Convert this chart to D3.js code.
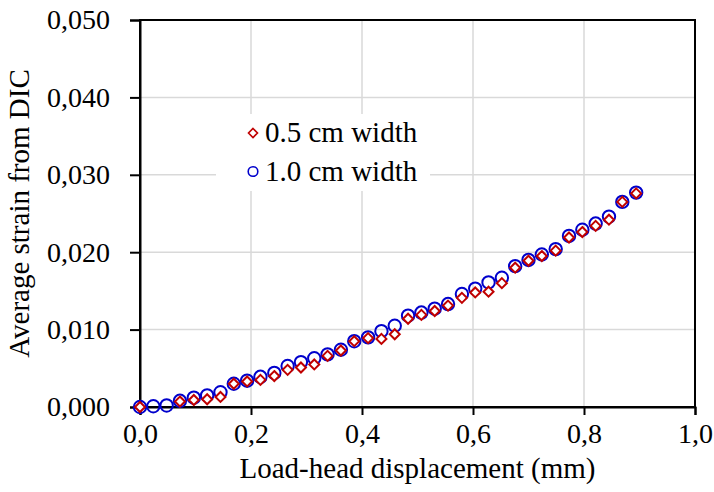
<!DOCTYPE html>
<html lang="en">
  <head>
    <meta charset="UTF-8" />
    <title>Average strain from DIC</title>
    <script src="https://d3js.org/d3.v7.min.js"></script>
    <style>
      body {
        margin: 0;
        background: white;
      }
      text {
        font-family: "Liberation Serif", "Times New Roman", serif;
        fill: #000;
      }
      .grid line {
        stroke: #d9d9d9;
        stroke-width: 1.5px;
      }
    </style>
  </head>
  <body>
    <div id="chart"></div>
    <script>
      // displacement (mm)
      const displacement = [
        0.0, 0.024, 0.048, 0.072, 0.097, 0.121, 0.145, 0.169, 0.193, 0.217,
        0.242, 0.266, 0.29, 0.314, 0.338, 0.362, 0.386, 0.411, 0.435, 0.459,
        0.483, 0.507, 0.531, 0.555, 0.58, 0.604, 0.628, 0.652, 0.676, 0.7,
        0.724, 0.749, 0.773, 0.797, 0.821, 0.845, 0.869, 0.894,
      ];
      // 0.5 cm width (null = no point)
      const strainHalf = [
        0.0, null, null, 0.0007, 0.0009, 0.001, 0.0013, 0.003, 0.0033, 0.0035,
        0.004, 0.0048, 0.0051, 0.0055, 0.0066, 0.0073, 0.0085, 0.0089, 0.0088,
        0.0094, 0.0114, 0.0119, 0.0124, 0.0131, 0.0141, 0.0148, 0.0149, 0.016,
        0.018, 0.0189, 0.0195, 0.0202, 0.0219, 0.0226, 0.0234, 0.0242, 0.0265,
        0.0276,
      ];
      // 1.0 cm width
      const strainOne = [
        0.0, 0.0001, 0.0002, 0.0008, 0.0012, 0.0015, 0.0019, 0.003, 0.0034,
        0.0039, 0.0044, 0.0053, 0.0058, 0.0063, 0.0068, 0.0074, 0.0085, 0.009,
        0.0098, 0.0105, 0.0118, 0.0122, 0.0127, 0.0133, 0.0146, 0.0153, 0.0161,
        0.0167, 0.0182, 0.019, 0.0197, 0.0204, 0.0221, 0.0229, 0.0237, 0.0246,
        0.0265, 0.0277,
      ];
      const xTicks = [0, 0.2, 0.4, 0.6, 0.8, 1.0];
      const yTicks = [0, 0.01, 0.02, 0.03, 0.04, 0.05];
      const legendLabels = ["0.5 cm width", "1.0 cm width"];

      const red = "#c00000";
      const blue = "#0000cc";
      const tickFont = 28;
      const titleFont = 29;

      const margin = { top: 20, right: 19, bottom: 85, left: 140 };
      const W = 714, H = 492;
      const width = W - margin.left - margin.right;
      const height = H - margin.top - margin.bottom;

      const svg = d3
        .select("#chart")
        .append("svg")
        .attr("width", W)
        .attr("height", H);
      const g = svg
        .append("g")
        .attr("transform", `translate(${margin.left},${margin.top})`);

      const x = d3.scaleLinear().domain([0, 1]).range([0, width]);
      const y = d3.scaleLinear().domain([0, 0.05]).range([height, 0]);

      const fmt = (dec) => (v) => v.toFixed(dec).replace(".", ",");

      // gridlines
      g.append("g")
        .attr("class", "grid")
        .selectAll("line.h")
        .data(yTicks.slice(1, -1))
        .join("line")
        .attr("x1", 0)
        .attr("x2", width)
        .attr("y1", (d) => y(d))
        .attr("y2", (d) => y(d));
      g.append("g")
        .attr("class", "grid")
        .selectAll("line.v")
        .data(xTicks.slice(1, -1))
        .join("line")
        .attr("y1", 0)
        .attr("y2", height)
        .attr("x1", (d) => x(d))
        .attr("x2", (d) => x(d));

      // frame
      g.append("rect")
        .attr("width", width)
        .attr("height", height)
        .attr("fill", "none")
        .attr("stroke", "#000")
        .attr("stroke-width", 2);

      const xAxis = g
        .append("g")
        .attr("transform", `translate(0,${height})`)
        .call(
          d3.axisBottom(x).tickValues(xTicks).tickFormat(fmt(1)).tickSizeOuter(0).tickSize(8).tickPadding(8)
        );
      const yAxis = g
        .append("g")
        .call(
          d3.axisLeft(y).tickValues(yTicks).tickFormat(fmt(3)).tickSizeOuter(0).tickSize(10).tickPadding(20)
        );
      [xAxis, yAxis].forEach((a) => {
        a.select(".domain").attr("stroke", "#000").attr("stroke-width", 2);
        a.selectAll(".tick line").attr("stroke", "#000").attr("stroke-width", 2);
        a.selectAll(".tick text")
          .style("font-family", '"Liberation Serif", serif')
          .style("font-size", tickFont + "px")
          .attr("fill", "#000");
      });

      // axis titles
      svg.append("text")
        .attr("x", margin.left + width / 2)
        .attr("y", 478)
        .attr("text-anchor", "middle")
        .style("font-size", titleFont + "px")
        .text("Load-head displacement (mm)");
      svg.append("text")
        .attr("transform", `translate(29,${margin.top + height / 2}) rotate(-90)`)
        .attr("text-anchor", "middle")
        .style("font-size", titleFont + "px")
        .text("Average strain from DIC");

      const diamond = (r) => `M0,${-r}L${r},0L0,${r}L${-r},0Z`;

      const ptsOne = displacement.map((d, i) => ({ x: d, y: strainOne[i] }));
      const ptsHalf = displacement
        .map((d, i) => ({ x: d, y: strainHalf[i] }))
        .filter((d) => d.y !== null);

      g.append("g")
        .selectAll("circle")
        .data(ptsOne)
        .join("circle")
        .attr("cx", (d) => x(d.x))
        .attr("cy", (d) => y(d.y))
        .attr("r", 6.2)
        .attr("fill", "none")
        .attr("stroke", blue)
        .attr("stroke-width", 2);

      g.append("g")
        .selectAll("path")
        .data(ptsHalf)
        .join("path")
        .attr("transform", (d) => `translate(${x(d.x)},${y(d.y)})`)
        .attr("d", diamond(5))
        .attr("fill", "white")
        .attr("stroke", red)
        .attr("stroke-width", 2);

      // legend
      const legend = svg.append("g");
      legend.append("rect")
        .attr("x", 216)
        .attr("y", 114)
        .attr("width", 214)
        .attr("height", 77)
        .attr("fill", "white");
      legend.append("path")
        .attr("transform", "translate(253,133)")
        .attr("d", diamond(4.5))
        .attr("fill", "white")
        .attr("stroke", red)
        .attr("stroke-width", 1.6);
      legend.append("circle")
        .attr("cx", 253)
        .attr("cy", 171.5)
        .attr("r", 4.8)
        .attr("fill", "white")
        .attr("stroke", blue)
        .attr("stroke-width", 1.6);
      legend.selectAll("text.lg")
        .data(legendLabels)
        .join("text")
        .attr("class", "lg")
        .attr("x", 265)
        .attr("y", (d, i) => 142 + i * 39)
        .style("font-size", titleFont + "px")
        .text((d) => d);
    </script>
  </body>
</html>
